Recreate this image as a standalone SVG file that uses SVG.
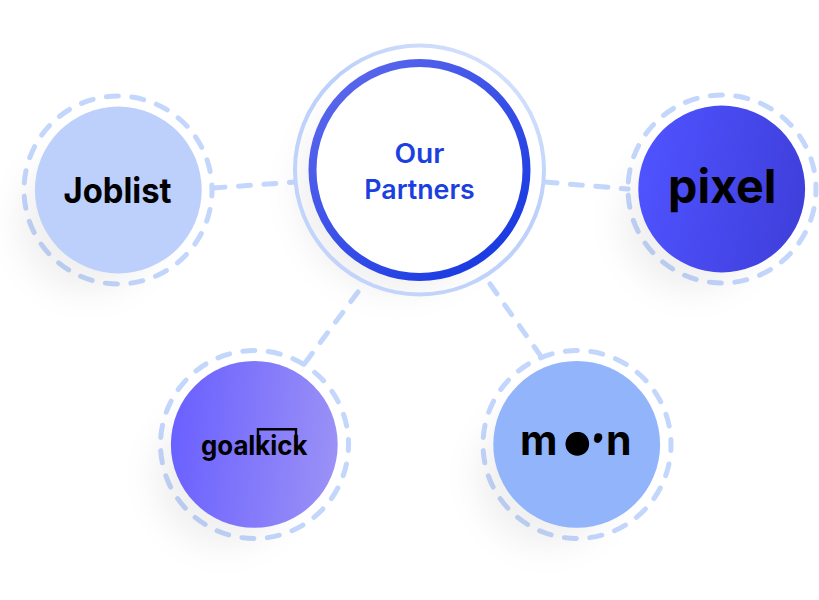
<svg xmlns="http://www.w3.org/2000/svg" width="819" height="600" viewBox="0 0 819 600">
<style>
.conn{fill:none;stroke:#c3d6fc;stroke-width:5;stroke-linecap:round;stroke-dasharray:12 13.5}
.ring{fill:none;stroke:#c3d6fc;stroke-width:5;stroke-linecap:round;stroke-dasharray:12.2 13.48;stroke-dashoffset:6.1}
.shadow{fill:#000;fill-opacity:.06;filter:url(#blur)}
.logo{font-family:"Inter","Liberation Sans",sans-serif;font-weight:700;fill:#000}
.title{font-family:"Inter","Liberation Sans",sans-serif;font-weight:600;font-size:26.5px;fill:#1c3fe0;text-anchor:middle}
</style>
<defs>
<filter id="blur" x="-60%" y="-60%" width="220%" height="220%"><feGaussianBlur stdDeviation="16"/></filter>
<linearGradient id="gc" x1="0.15" y1="0.1" x2="0.85" y2="0.9"><stop offset="0" stop-color="#5865ec"/><stop offset="1" stop-color="#1a3be2"/></linearGradient>
<linearGradient id="go" x1="0.85" y1="0.1" x2="0.3" y2="0.9"><stop offset="0" stop-color="#d3e0fc"/><stop offset="0.4" stop-color="#bcd0fb"/><stop offset="1" stop-color="#c2d4fb"/></linearGradient>
<linearGradient id="gp" x1="0" y1="0.4" x2="1" y2="0.6"><stop offset="0" stop-color="#4f53ff"/><stop offset="1" stop-color="#3f3fdb"/></linearGradient>
<linearGradient id="gg" x1="0" y1="0.45" x2="1" y2="0.55"><stop offset="0" stop-color="#6a60ff"/><stop offset="1" stop-color="#9b91f6"/></linearGradient>
</defs>
<g id="connectors">
<path class="conn" d="M213 188L295 182"/>
<path class="conn" d="M545 182L628 189"/>
<path class="conn" d="M358 292L305 363"/>
<path class="conn" d="M490 284L540 355"/>
</g>
<g id="node-partners">
<circle class="shadow" cx="397" cy="192" r="100"/>
<circle cx="419.5" cy="170" r="124.5" fill="none" stroke="url(#go)" stroke-width="4"/>
<circle cx="419.5" cy="170" r="107" fill="#fff" stroke="url(#gc)" stroke-width="8"/>
<text class="title" x="419.5" y="162.5" textLength="50" lengthAdjust="spacingAndGlyphs">Our</text>
<text class="title" x="419.5" y="198.5" textLength="110.5" lengthAdjust="spacingAndGlyphs">Partners</text>
</g>
<g id="node-joblist">
<circle class="ring" cx="118" cy="190" r="94"/>
<circle class="shadow" cx="88" cy="222" r="70"/>
<circle cx="118.3" cy="190" r="83.4" fill="#bcd0fb"/>
<text class="logo" x="63.5" y="203" font-size="35" textLength="108" lengthAdjust="spacingAndGlyphs">Joblist</text>
</g>
<g id="node-pixel">
<circle class="ring" cx="722" cy="189" r="94"/>
<circle class="shadow" cx="692" cy="221" r="70"/>
<circle cx="721.7" cy="189" r="83.4" fill="url(#gp)"/>
<text class="logo" x="668" y="202.5" font-size="47" textLength="108.5" lengthAdjust="spacingAndGlyphs">pixel</text>
</g>
<g id="node-goalkick">
<circle class="ring" cx="254.5" cy="444.5" r="94"/>
<circle class="shadow" cx="224" cy="476" r="70"/>
<circle cx="254.3" cy="444.4" r="83.4" fill="url(#gg)"/>
<text class="logo" x="201" y="455" font-size="27" textLength="106.5" lengthAdjust="spacingAndGlyphs">goalkick</text>
<path d="M258 455V429.3H296V440" fill="none" stroke="#000" stroke-width="2.4"/>
</g>
<g id="node-moon">
<circle class="ring" cx="577" cy="444.5" r="94"/>
<circle class="shadow" cx="547" cy="476" r="70"/>
<circle cx="576.7" cy="444.4" r="83.4" fill="#91b4fa"/>
<text class="logo" y="455" font-size="41"><tspan x="520">m</tspan><tspan x="565">o</tspan><tspan x="592.3" y="446" font-size="22">•</tspan><tspan x="606" y="455">n</tspan></text>
<circle cx="577.3" cy="444" r="11.8"/>
<circle cx="598.3" cy="437.3" r="4"/>
</g>
</svg>
